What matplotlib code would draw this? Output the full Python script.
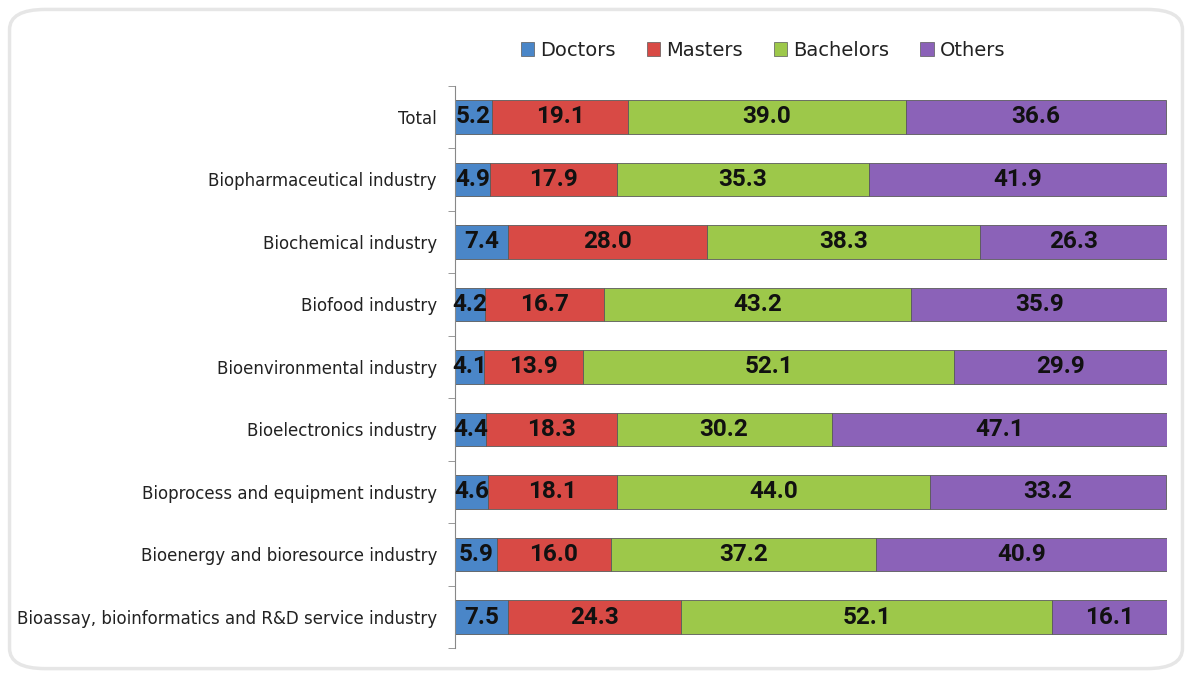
import matplotlib
matplotlib.use("Agg")
import matplotlib.pyplot as plt
from matplotlib.patches import FancyBboxPatch, Patch
import numpy as np

# data (percent)
categories = ['Total', 'Biopharmaceutical industry', 'Biochemical industry',
              'Biofood industry', 'Bioenvironmental industry',
              'Bioelectronics industry', 'Bioprocess and equipment industry',
              'Bioenergy and bioresource industry',
              'Bioassay, bioinformatics and R&D service industry']
doctors = [5.2, 4.9, 7.4, 4.2, 4.1, 4.4, 4.6, 5.9, 7.5]
masters = [19.1, 17.9, 28.0, 16.7, 13.9, 18.3, 18.1, 16.0, 24.3]
bachelors = [39.0, 35.3, 38.3, 43.2, 52.1, 30.2, 44.0, 37.2, 52.1]
others = [36.6, 41.9, 26.3, 35.9, 29.9, 47.1, 33.2, 40.9, 16.1]

series = ['Doctors', 'Masters', 'Bachelors', 'Others']
colors = ['#4A86C8', '#D84A45', '#9DC84A', '#8B62B8']

fig = plt.figure(figsize=(11.92, 6.74), dpi=100)

# rounded frame around the whole chart
frame = FancyBboxPatch((0.008, 0.008), 0.984, 0.978,
                       boxstyle="round,pad=0,rounding_size=0.03",
                       transform=fig.transFigure, facecolor='none',
                       edgecolor='#E6E6E6', linewidth=2.5, zorder=-1)
fig.patches.append(frame)

ax = fig.add_axes([0.3817, 0.0382, 0.5973, 0.8346])
ax.patch.set_alpha(0)

y = np.arange(len(categories))
left = np.zeros(len(categories))
for name, vals, col in zip(series, [doctors, masters, bachelors, others], colors):
    vals = np.array(vals)
    bars = ax.barh(y, vals, left=left, height=0.53, color=col,
                   edgecolor='#5A5A5A', linewidth=0.6, label=name, zorder=2)
    for b, v in zip(bars, vals):
        ax.text(b.get_x() + b.get_width() / 2, b.get_y() + b.get_height() / 2,
                f'{v:.1f}', ha='center', va='center', fontsize=17.5,
                fontweight='bold', family='Roboto', color='#111111', zorder=3)
    left += vals

ax.set_xlim(0, 100)
ax.set_ylim(len(categories) - 0.5, -0.5)
ax.set_yticks(y)
ax.set_yticklabels(categories, fontsize=12, color='#222222')
ax.set_yticks(np.arange(len(categories) + 1) - 0.5, minor=True)
ax.tick_params(axis='y', which='major', length=0, pad=13)
ax.tick_params(axis='y', which='minor', length=5, color='#888888', direction='out')
ax.set_xticks([])
for s in ['top', 'right', 'bottom']:
    ax.spines[s].set_visible(False)
ax.spines['left'].set_color('#888888')

handles = [Patch(facecolor=c, edgecolor='#5A5A5A', linewidth=0.5) for c in colors]
fig.legend(handles, series, loc='center', bbox_to_anchor=(0.64, 0.925),
           ncol=4, frameon=False, fontsize=14, handlelength=0.7,
           handleheight=0.7, handletextpad=0.3, columnspacing=1.6,
           labelcolor='#222222')

fig.savefig('out.png', dpi=100)
